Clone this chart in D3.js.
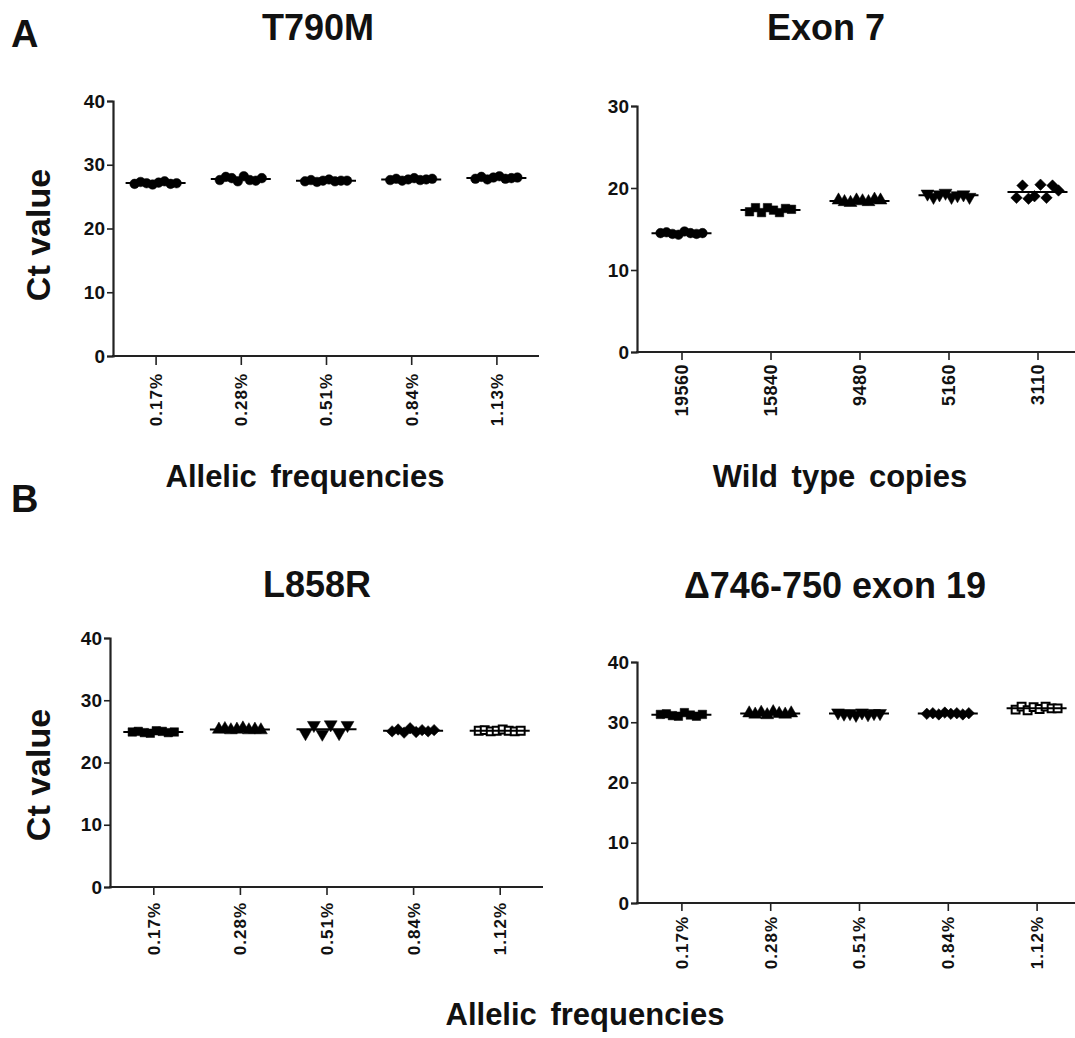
<!DOCTYPE html>
<html>
<head>
<meta charset="utf-8">
<script src="https://cdn.jsdelivr.net/npm/d3@7"></script>
<style>
  html, body { margin: 0; padding: 0; background: #fff; }
  svg text { fill: #111; }
  .title { font-family: "Liberation Sans", Arial, sans-serif; font-weight: bold; }
  .tick text { font-family: "Liberation Sans Narrow", "Arial Narrow", "Liberation Sans", sans-serif; }
</style>
</head>
<body>
<svg id="chart" width="1075" height="1038"></svg>
<script>
// ---------------- DATA ----------------
const pctLabelsA = ["0.17%", "0.28%", "0.51%", "0.84%", "1.13%"];
const copyLabels = ["19560", "15840", "9480", "5160", "3110"];
const pctLabelsB = ["0.17%", "0.28%", "0.51%", "0.84%", "1.12%"];

const yTicks40 = [0, 10, 20, 30, 40];
const yTicks30 = [0, 10, 20, 30];

// Ct values per group (T790M)
const t790m = [
  [27.0, 27.3, 27.1, 26.9, 27.2, 27.4, 27.0, 27.1],
  [27.6, 28.1, 27.9, 27.4, 28.2, 27.6, 27.5, 27.9],
  [27.4, 27.6, 27.3, 27.5, 27.7, 27.4, 27.5, 27.5],
  [27.6, 27.8, 27.5, 27.7, 27.9, 27.6, 27.7, 27.8],
  [27.8, 28.1, 27.7, 28.0, 28.2, 27.8, 27.9, 28.0]
];
// Exon 7 (wild type)
const exon7 = [
  [14.5, 14.6, 14.4, 14.3, 14.7, 14.5, 14.4, 14.5],
  [17.1, 17.6, 17.0, 17.6, 17.3, 17.0, 17.5, 17.4],
  [18.5, 18.3, 18.2, 18.5, 18.4, 18.3, 18.6, 18.5],
  [19.3, 18.9, 19.2, 19.4, 18.9, 19.1, 19.2, 18.9],
  [18.8, 20.3, 18.7, 19.0, 20.4, 18.8, 20.3, 19.7]
];
// L858R
const l858r = [
  [24.9, 25.0, 24.8, 24.7, 25.1, 25.0, 24.8, 24.9],
  [25.3, 25.4, 25.2, 25.3, 25.5, 25.2, 25.3, 25.2],
  [24.7, 26.0, 24.6, 26.1, 24.7, 26.0],
  [25.0, 25.3, 24.8, 25.5, 24.9, 25.2, 25.0, 25.2],
  [25.1, 25.2, 25.0, 25.1, 25.3, 25.1, 25.0, 25.1]
];
// Δ746-750 exon 19
const del19 = [
  [31.3, 31.4, 31.1, 31.0, 31.6, 31.2, 31.0, 31.3],
  [31.5, 31.3, 31.6, 31.2, 31.7, 31.4, 31.3, 31.5],
  [31.6, 31.4, 31.5, 31.2, 31.6, 31.3, 31.5, 31.5],
  [31.4, 31.5, 31.3, 31.6, 31.4, 31.5, 31.3, 31.5],
  [32.1, 32.6, 32.0, 32.5, 32.2, 32.6, 32.3, 32.3]
];

const markersA1 = ["circle", "circle", "circle", "circle", "circle"];
const markersA2 = ["circle", "square", "triUp", "triDown", "diamond"];
const markersB  = ["square", "triUp", "triDown", "diamond", "openSquare"];

// ---------------- DRAWING ----------------
const svg = d3.select("#chart");

function symbolPath(kind) {
  switch (kind) {
    case "circle": return d3.symbol(d3.symbolCircle, 72)();
    case "square": return d3.symbol(d3.symbolSquare, 72)();
    case "openSquare": return d3.symbol(d3.symbolSquare, 62)();
    case "triUp": case "triDown": return d3.symbol(d3.symbolTriangle, 72)();
    case "diamond": return d3.symbol(d3.symbolSquare, 66)();
  }
}
function symbolRot(kind) {
  if (kind === "triDown") return " rotate(180)";
  if (kind === "diamond") return " rotate(45)";
  return "";
}

function panel(cfg) {
  const x = d3.scalePoint().domain(cfg.labels).range([cfg.x0, cfg.x1]).padding(0.5);
  const y = d3.scaleLinear().domain([0, cfg.ymax]).range([cfg.yBot, cfg.yTop]);
  const g = svg.append("g");

  // y axis
  const ya = g.append("g").attr("transform", `translate(${cfg.x0},0)`)
    .call(d3.axisLeft(y).tickValues(cfg.yTicks).tickSizeOuter(0).tickSize(6).tickPadding(2));
  ya.select(".domain").attr("stroke", "#222").attr("stroke-width", 2.2);
  ya.selectAll(".tick line").attr("stroke", "#222").attr("stroke-width", 1.6);
  ya.selectAll(".tick text").attr("font-size", 19).attr("font-weight", "bold").attr("fill", "#222");

  // x axis
  const xa = g.append("g").attr("transform", `translate(0,${cfg.yBot})`)
    .call(d3.axisBottom(x).tickSizeOuter(0).tickSize(cfg.xTick));
  xa.select(".domain").attr("stroke", "#222").attr("stroke-width", 2.2)
    .attr("d", `M${cfg.x0 - 1},0H${cfg.x1}`);
  xa.selectAll(".tick line").attr("stroke", "#222").attr("stroke-width", 1.6);
  xa.selectAll(".tick text")
    .attr("font-size", cfg.xFont)
    .attr("font-weight", "bold")
    .attr("font-family", '"Liberation Sans", Arial, sans-serif')
    .attr("letter-spacing", cfg.xLS)
    .attr("fill", "#222")
    .attr("transform", "rotate(-90)")
    .attr("text-anchor", "end")
    .attr("x", -cfg.xGap)
    .attr("y", 0)
    .attr("dy", "0.35em");

  // points & mean lines
  cfg.data.forEach((vals, gi) => {
    const cx = x(cfg.labels[gi]);
    const n = vals.length;
    const spread = 42;
    const step = n > 1 ? spread / (n - 1) : 0;
    const kind = cfg.markers[gi];
    const grp = g.append("g");
    grp.selectAll("path.pt").data(vals).enter().append("path")
      .attr("class", "pt")
      .attr("d", symbolPath(kind))
      .attr("transform", (v, i) => `translate(${cx - spread / 2 + i * step},${y(v)})` + symbolRot(kind))
      .attr("fill", kind === "openSquare" ? "#fff" : "#000")
      .attr("stroke", "#000")
      .attr("stroke-width", kind === "openSquare" ? 2 : 0.5);
    const m = d3.mean(vals);
    grp.append("line")
      .attr("x1", cx - 30).attr("x2", cx + 30)
      .attr("y1", y(m)).attr("y2", y(m))
      .attr("stroke", "#000").attr("stroke-width", 2);
  });

  // title
  svg.append("text").attr("class", "title")
    .attr("x", cfg.titleX).attr("y", cfg.titleY)
    .attr("text-anchor", "middle").attr("font-size", 36)
    .text(cfg.title);
}

panel({ title: "T790M", titleX: 318, titleY: 40, labels: pctLabelsA, data: t790m, markers: markersA1,
  x0: 113, x1: 539, yTop: 101, yBot: 356, ymax: 40, yTicks: yTicks40,
  xTick: 9, xGap: 17, xFont: 17, xLS: 1 });
panel({ title: "Exon 7", titleX: 826, titleY: 40, labels: copyLabels, data: exon7, markers: markersA2,
  x0: 637, x1: 1082, yTop: 106, yBot: 352, ymax: 30, yTicks: yTicks30,
  xTick: 8, xGap: 12, xFont: 18, xLS: 0.5 });
panel({ title: "L858R", titleX: 317, titleY: 597, labels: pctLabelsB, data: l858r, markers: markersB,
  x0: 110, x1: 543, yTop: 638, yBot: 887, ymax: 40, yTicks: yTicks40,
  xTick: 8, xGap: 15, xFont: 17, xLS: 1 });
panel({ title: "Δ746-750 exon 19", titleX: 835, titleY: 598, labels: pctLabelsB, data: del19, markers: markersB,
  x0: 637, x1: 1081, yTop: 662, yBot: 903, ymax: 40, yTicks: yTicks40,
  xTick: 8, xGap: 13, xFont: 17, xLS: 1 });

// panel letters
svg.append("text").attr("class", "title").attr("x", 11).attr("y", 47).attr("font-size", 38).text("A");
svg.append("text").attr("class", "title").attr("x", 11).attr("y", 512).attr("font-size", 38).text("B");

// y axis titles
[[50, 235], [50, 775]].forEach(([tx, ty]) => {
  svg.append("text").attr("class", "title")
    .attr("transform", `translate(${tx},${ty}) rotate(-90)`)
    .attr("text-anchor", "middle").attr("font-size", 34)
    .text("Ct value");
});

// x axis titles
[["Allelic frequencies", 305, 487], ["Wild type copies", 840, 487], ["Allelic frequencies", 585, 1025]]
  .forEach(([t, tx, ty]) => {
    svg.append("text").attr("class", "title")
      .attr("x", tx).attr("y", ty).attr("text-anchor", "middle")
      .attr("font-size", 31).attr("word-spacing", 5)
      .text(t);
  });
</script>
</body>
</html>
